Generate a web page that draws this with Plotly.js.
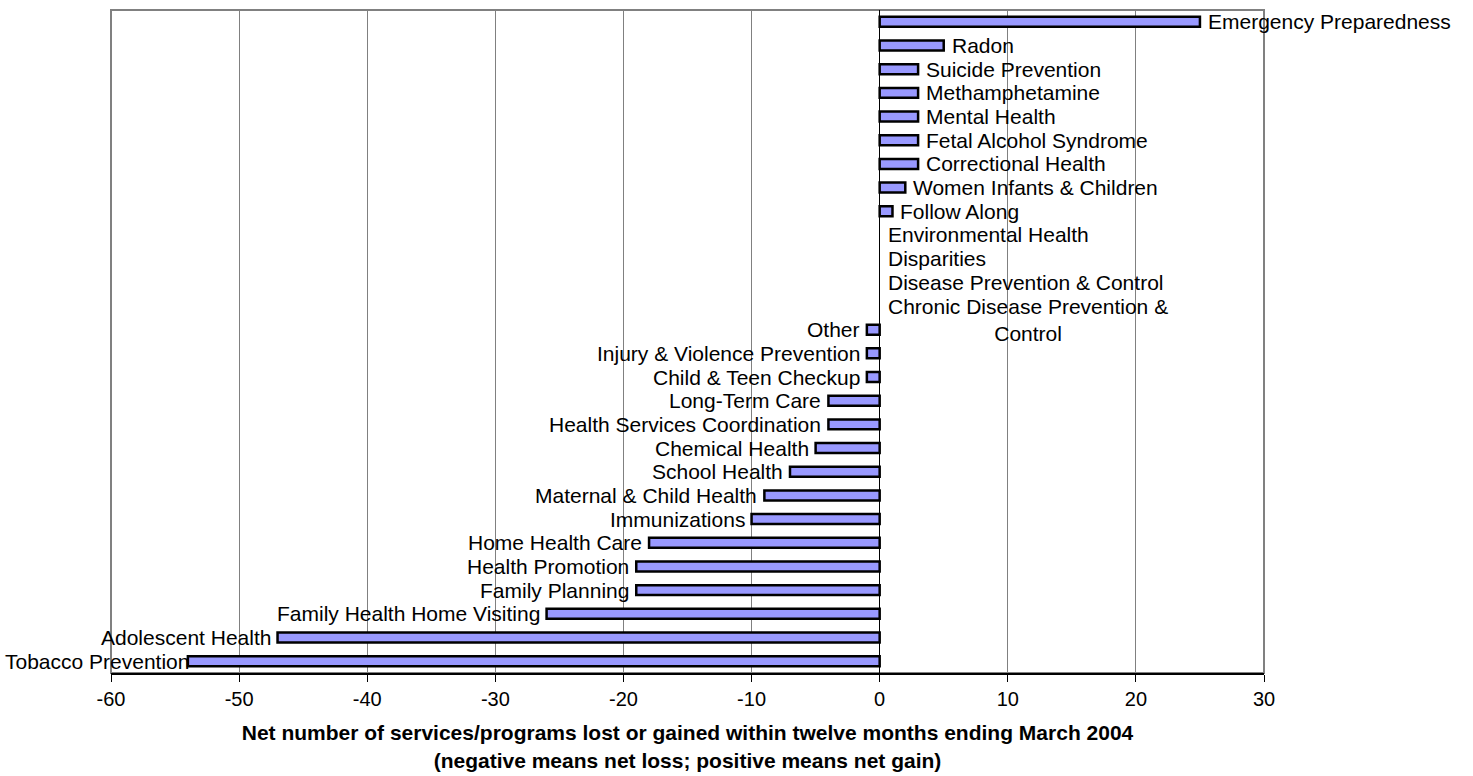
<!DOCTYPE html>
<html>
<head>
<meta charset="utf-8">
<script src="https://cdn.plot.ly/plotly-3.0.1.min.js"></script>
<style>html,body{margin:0;padding:0;background:#fff;}#chart{width:1473px;height:776px;}</style>
</head>
<body>
<div id="chart"></div>
<script>
const categories = [
  "Emergency Preparedness", "Radon", "Suicide Prevention", "Methamphetamine",
  "Mental Health", "Fetal Alcohol Syndrome", "Correctional Health",
  "Women Infants & Children", "Follow Along", "Environmental Health",
  "Disparities", "Disease Prevention & Control", "Chronic Disease Prevention & Control",
  "Other", "Injury & Violence Prevention", "Child & Teen Checkup", "Long-Term Care",
  "Health Services Coordination", "Chemical Health", "School Health",
  "Maternal & Child Health", "Immunizations", "Home Health Care", "Health Promotion",
  "Family Planning", "Family Health Home Visiting", "Adolescent Health", "Tobacco Prevention"
];
const netChange = [
  25, 5, 3, 3,
  3, 3, 3,
  2, 1, 0,
  0, 0, 0,
  -1, -1, -1, -4,
  -4, -5, -7,
  -9, -10, -18, -19,
  -19, -26, -47, -54
];
const labelTexts = categories.map(c => c === "Chronic Disease Prevention & Control"
  ? "Chronic Disease Prevention &<br>Control" : c);
const xTickVals = [-60, -50, -40, -30, -20, -10, 0, 10, 20, 30];
const axisTitle = "Net number of services/programs lost or gained within twelve months ending March 2004<br>(negative means net loss; positive means net gain)";

const FONT = "Liberation Sans, Arial, sans-serif";
const FS = 21;

const trace = {
  type: "bar",
  orientation: "h",
  x: netChange,
  y: categories,
  marker: {
    color: "#9999FF",
    line: { color: "#000000", width: netChange.map(v => v === 0 ? 0 : 2.5) }
  },
  width: 0.42,
  hoverinfo: "x+y"
};

const annotations = categories.map((c, i) => {
  const v = netChange[i];
  const a = {
    x: v, y: c, xref: "x", yref: "y",
    text: labelTexts[i], showarrow: false,
    font: { family: FONT, size: FS, color: "#000" }
  };
  if (v > 0) { a.xanchor = "left"; a.xshift = 6; }
  else if (v < 0) { a.xanchor = "right"; a.xshift = -5; }
  else { a.xanchor = "left"; a.xshift = 6; }
  if (labelTexts[i].includes("<br>")) { a.yanchor = "top"; a.yshift = 13; a.align = "center"; }
  return a;
});
// keep leftmost label inside the figure (as in the original, it overlaps its bar)
const last = annotations[annotations.length - 1];
const plotL = 111, plotW = 1473 - 111 - 209;
delete last.xshift;
last.xref = "paper"; last.x = (3 - plotL) / plotW; last.xanchor = "left";

const layout = {
  width: 1473, height: 776,
  margin: { l: 111, r: 209, t: 10, b: 103 },
  paper_bgcolor: "#fff", plot_bgcolor: "#fff",
  showlegend: false,
  font: { family: FONT, size: FS, color: "#000" },
  xaxis: {
    range: [-60, 30],
    tickvals: xTickVals,
    ticktext: xTickVals.map(String),
    showgrid: true, gridcolor: "#808080", gridwidth: 1,
    zeroline: true, zerolinecolor: "#000", zerolinewidth: 1,
    showline: true, linecolor: "#000", linewidth: 1.5,
    ticks: "outside", ticklen: 7, tickcolor: "#000", tickwidth: 1,
    tickfont: { family: FONT, size: 20, color: "#000" },
    title: { text: axisTitle, standoff: 17, font: { family: FONT, size: 21, color: "#000", weight: "bold" } },
    fixedrange: true
  },
  yaxis: {
    type: "category",
    categoryorder: "array", categoryarray: categories,
    range: [categories.length - 0.5, -0.5],
    showticklabels: false, showgrid: false, zeroline: false,
    showline: false, ticks: "",
    fixedrange: true
  },
  shapes: [
    { type: "rect", xref: "paper", yref: "paper", x0: 0, x1: 1, y0: 0, y1: 1,
      line: { color: "#808080", width: 2 }, fillcolor: "rgba(0,0,0,0)", layer: "below" }
  ],
  annotations: annotations,
  bargap: 0.58
};

Plotly.newPlot("chart", [trace], layout, { displayModeBar: false, staticPlot: true });
</script>
</body>
</html>
